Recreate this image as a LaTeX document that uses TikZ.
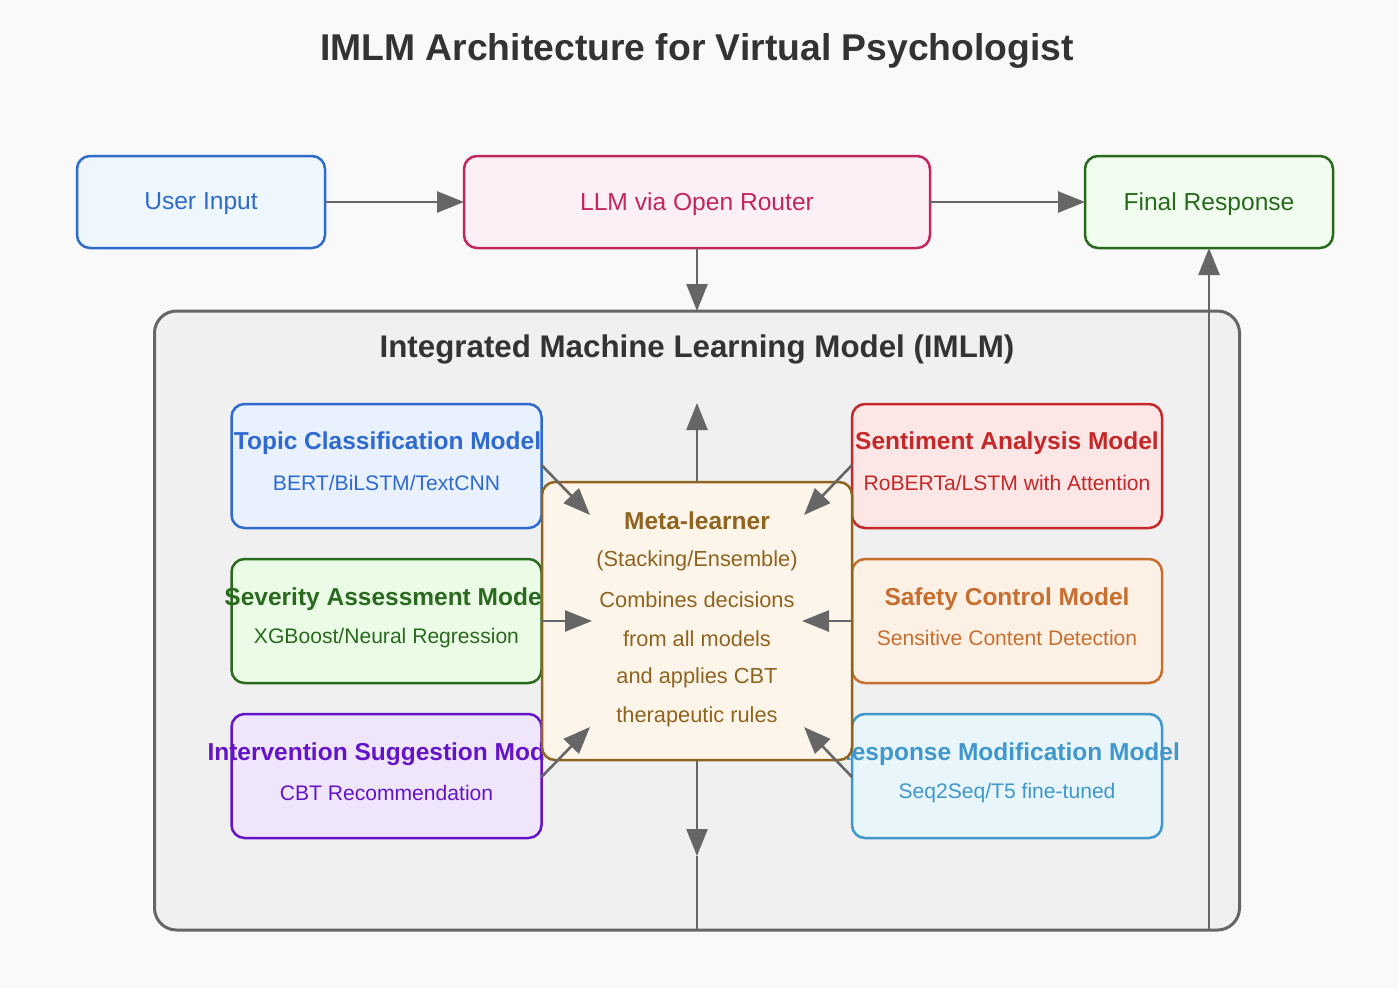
\documentclass[tikz,border=0pt]{standalone}
\usepackage{fontspec}
\setmainfont{Liberation Sans}
\usetikzlibrary{arrows.meta}
\definecolor{bg}{HTML}{F9F9F9}
\definecolor{ink}{HTML}{333333}
\definecolor{arrowc}{HTML}{666666}
\definecolor{clfill}{HTML}{F0F0F0}
\definecolor{uFill}{HTML}{EEF6FE}\definecolor{uDraw}{HTML}{2F6BCB}
\definecolor{lFill}{HTML}{FCF0F6}\definecolor{lDraw}{HTML}{C2265E}
\definecolor{fFill}{HTML}{F1FDEF}\definecolor{fDraw}{HTML}{2A6A1E}
\definecolor{tFill}{HTML}{E8F1FD}\definecolor{tDraw}{HTML}{2E6AD0}
\definecolor{sFill}{HTML}{EAFBE6}\definecolor{sDraw}{HTML}{2A6A1E}
\definecolor{iFill}{HTML}{EFE6FC}\definecolor{iDraw}{HTML}{6414C8}
\definecolor{mFill}{HTML}{FDF5E9}\definecolor{mDraw}{HTML}{8F6420}
\definecolor{aFill}{HTML}{FCE6E6}\definecolor{aDraw}{HTML}{C42828}
\definecolor{cFill}{HTML}{FDF1E6}\definecolor{cDraw}{HTML}{C86E2E}
\definecolor{rFill}{HTML}{E8F5FB}\definecolor{rDraw}{HTML}{3F97CC}
\tikzset{
  box/.style={rectangle, rounded corners=13pt, line width=2.5pt, inner sep=0pt, outer sep=0pt},
  topbox/.style={box, minimum width=248pt, minimum height=92pt},
  sidebox/.style={box, minimum width=310pt, minimum height=124pt},
  toptext/.style={font=\fontsize{24.6}{28}\selectfont},
  headtext/.style={font=\fontsize{24.5}{28}\selectfont\bfseries},
  subtext/.style={font=\fontsize{21.1}{24}\selectfont},
  metatext/.style={font=\fontsize{21.8}{25}\selectfont, text=mDraw},
  arr/.style={draw=arrowc, line width=2.6pt, -{Triangle[length=27pt,width=21pt]}},
  plain/.style={draw=arrowc, line width=2.6pt},
}
\begin{document}
\begin{tikzpicture}[x=1pt,y=-1pt]
\fill[bg] (0,0) rectangle (1398,988);
\useasboundingbox (0,0) rectangle (1398,988);

% title
\node[font=\fontsize{37.3}{40}\selectfont\bfseries, text=ink] (title) at (697,51) {IMLM Architecture for Virtual Psychologist};

% top row
\node[topbox, draw=uDraw, fill=uFill] (user) at (201,202) {};
\node[toptext, text=uDraw] (usert) at (201,204) {User Input};
\node[topbox, draw=lDraw, fill=lFill, minimum width=466pt] (llm) at (697,202) {};
\node[toptext, text=lDraw] (llmt) at (697,204) {LLM via Open Router};
\node[topbox, draw=fDraw, fill=fFill] (final) at (1209,202) {};
\node[toptext, text=fDraw] (finalt) at (1209,204) {Final Response};

% cluster
\node[rectangle, rounded corners=22pt, draw=arrowc, fill=clfill, line width=3pt, inner sep=0pt, outer sep=0pt,
      minimum width=1085pt, minimum height=619pt] (cluster) at (697,620.5) {};
\node[font=\fontsize{31.3}{34}\selectfont\bfseries, text=ink] (clt) at (697,349) {Integrated Machine Learning Model (IMLM)};

% left column
\node[sidebox, draw=tDraw, fill=tFill] (topic) at (386.5,466) {};
\node[headtext, text=tDraw] (topich) at (387.5,443) {Topic Classification Model};
\node[subtext, text=tDraw] (topics) at (386.5,483) {BERT/BiLSTM/TextCNN};

\node[sidebox, draw=sDraw, fill=sFill] (sev) at (386.5,621) {};
\node[headtext, text=sDraw] (sevh) at (386.5,599) {Severity Assessment Model};
\node[subtext, text=sDraw] (sevs) at (386.5,638) {XGBoost/Neural Regression};

\node[sidebox, draw=iDraw, fill=iFill] (inter) at (386.5,776) {};
\node[headtext, text=iDraw] (interh) at (386.5,754) {Intervention Suggestion Model};
\node[subtext, text=iDraw] (inters) at (386.5,793) {CBT Recommendation};

% right column
\node[sidebox, draw=aDraw, fill=aFill] (sent) at (1007,466) {};
\node[headtext, text=aDraw] (senth) at (1007,443) {Sentiment Analysis Model};
\node[subtext, text=aDraw] (sents) at (1007,483) {RoBERTa/LSTM with Attention};

\node[sidebox, draw=cDraw, fill=cFill] (safe) at (1007,621) {};
\node[headtext, text=cDraw] (safeh) at (1007,599) {Safety Control Model};
\node[subtext, text=cDraw] (safes) at (1007,638) {Sensitive Content Detection};

\node[sidebox, draw=rDraw, fill=rFill] (resp) at (1007,776) {};
\node[headtext, text=rDraw] (resph) at (1007,754) {Response Modification Model};
\node[subtext, text=rDraw] (resps) at (1007,793) {Seq2Seq/T5 fine-tuned};

% meta-learner (drawn over overflowing texts)
\node[box, draw=mDraw, fill=mFill, minimum width=310pt, minimum height=278pt] (meta) at (697,621) {};
\node[metatext, font=\fontsize{24.5}{28}\selectfont\bfseries] (m1) at (697,521) {Meta-learner};
\node[metatext] (m2) at (697,561) {(Stacking/Ensemble)};
\node[metatext] (m3) at (697,600) {Combines decisions};
\node[metatext] (m4) at (697,639) {from all models};
\node[metatext] (m5) at (697,678) {and applies CBT};
\node[metatext] (m6) at (697,717) {therapeutic rules};

% connector points
\coordinate (tipT) at (590,515);
\coordinate (tipS) at (592,621);
\coordinate (tipI) at (590,727);
\coordinate (tipA) at (804,515);
\coordinate (tipC) at (802,621);
\coordinate (tipR) at (804,727);
\coordinate (tipUp) at (697,403);
\coordinate (tipDown) at (697,856);
\coordinate (bl) at (697,930);
\coordinate (br) at (1209,930);

% connectors
\draw[arr] (user.east) -- (llm.west);
\draw[arr] (llm.east) -- (final.west);
\draw[arr] (llm.south) -- (cluster.north);
\draw[arr] ([yshift=1pt]topic.east) -- (tipT);
\draw[arr] (sev.east) -- (tipS);
\draw[arr] ([yshift=-1pt]inter.east) -- (tipI);
\draw[arr] ([yshift=1pt]sent.west) -- (tipA);
\draw[arr] (safe.west) -- (tipC);
\draw[arr] ([yshift=-1pt]resp.west) -- (tipR);
\draw[arr] (meta.north) -- (tipUp);
\draw[arr] (meta.south) -- (tipDown);
\draw[plain] (tipDown) -- (bl) -- (br);
\draw[arr] (br) -- (final.south);
\end{tikzpicture}
\end{document}
